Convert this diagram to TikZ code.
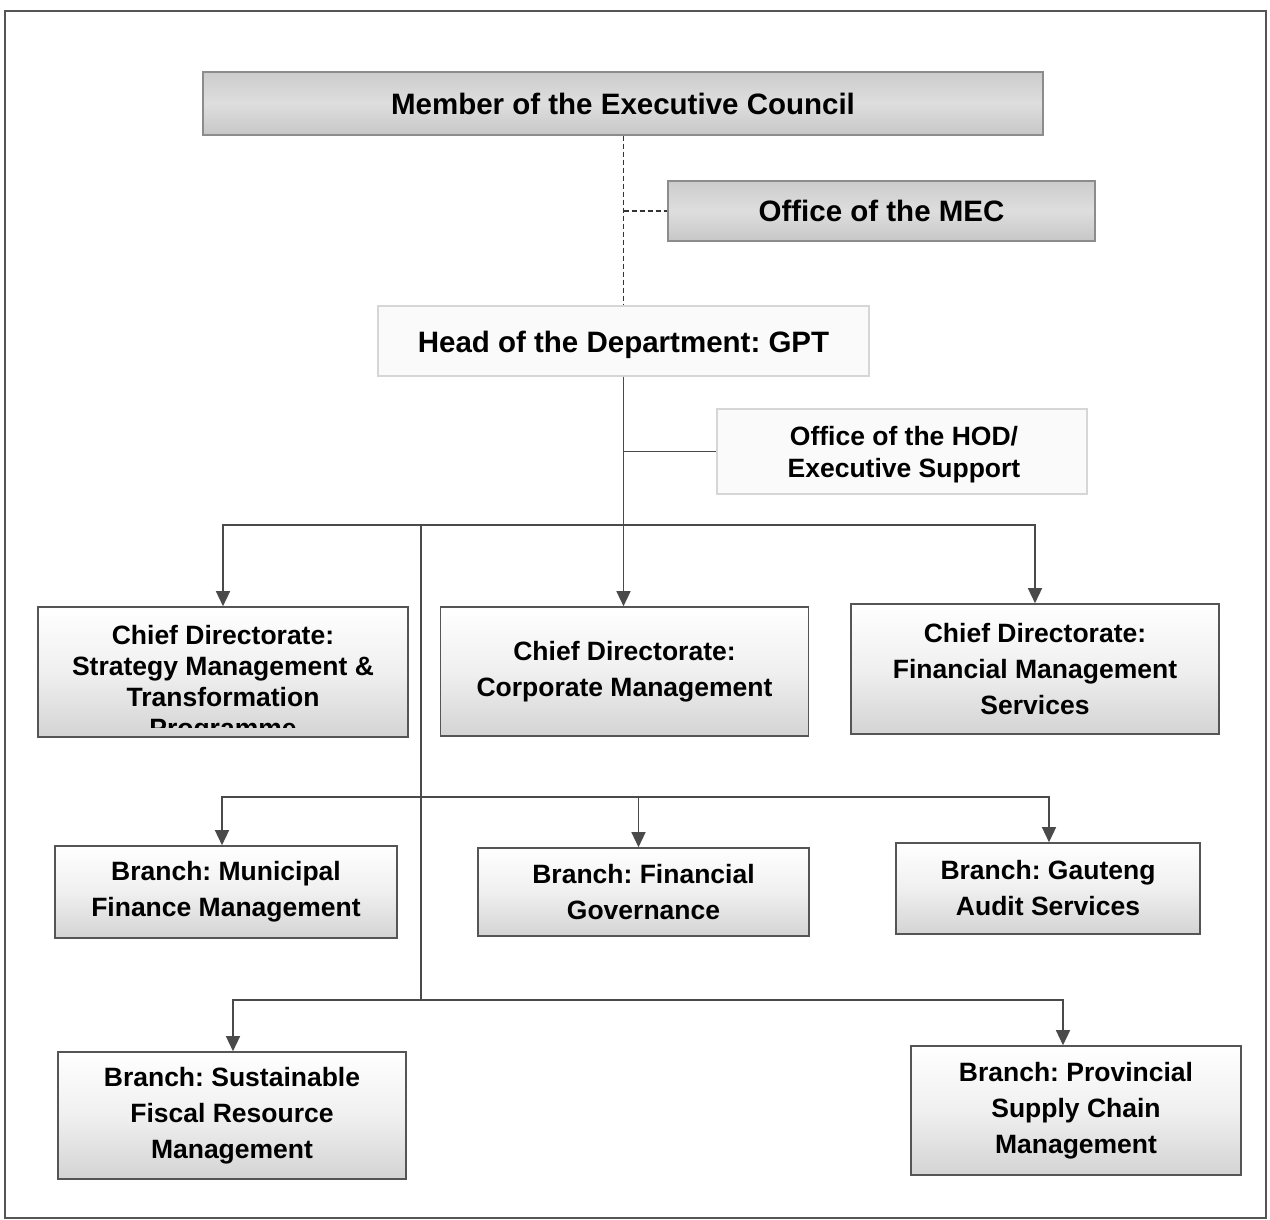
\documentclass[tikz,border=0pt]{standalone}
\usepackage{fontspec}
\setmainfont{Liberation Sans}
\usetikzlibrary{arrows.meta}
\frenchspacing
\definecolor{bordgray}{HTML}{555555}
\definecolor{linegray}{HTML}{4A4A4A}
\definecolor{lightbord}{HTML}{D6D6D6}
\tikzset{
  orgbox/.style={draw=bordgray, line width=1.6pt, rectangle, inner sep=0pt,
    top color=white, bottom color=black!17, middle color=black!6,
    align=center, font=\bfseries\fontsize{26.5}{36}\selectfont},
  topbox/.style={draw=black!45, line width=1.4pt, rectangle, inner sep=0pt,
    top color=black!20, bottom color=black!22, middle color=black!13,
    align=center, font=\bfseries\fontsize{29.5}{36}\selectfont},
  palebox/.style={draw=lightbord, line width=1.4pt, rectangle, inner sep=0pt,
    fill=black!2, align=center},
  conn/.style={draw=linegray, line width=1.4pt},
  arr/.style={conn, -{Triangle[width=14pt,length=15pt]}},
  dconn/.style={draw=black!80, line width=1.2pt, dash pattern=on 5pt off 3pt},
}
\begin{document}
\begin{tikzpicture}[x=1pt,y=-1pt]
\useasboundingbox (0,0) rectangle (1270,1220);
\fill[white] (0,0) rectangle (1270,1220);
\draw[draw=bordgray, line width=2pt] (5,11) rectangle (1266,1218);

% top level
\node[topbox, minimum width=840, minimum height=63] (mec) at (623,103.5) {Member of the Executive Council};
\node[topbox, minimum width=427, minimum height=60] (omec) at (881.5,211) {Office of the MEC};
\node[palebox, minimum width=491, minimum height=70] (hod) at (623.5,341) {};
\node[font=\bfseries\fontsize{29.5}{36}\selectfont] (hodtext) at (623.5,345) {Head of the Department: GPT};
\node[palebox, minimum width=370, minimum height=85] (ohod) at (902,451.5) {};
\node[align=center, font=\bfseries\fontsize{26.5}{32}\selectfont] (ohodtext) at (904,455) {Office of the HOD/\\Executive Support};

% chief directorates
\node[orgbox, minimum width=370, minimum height=130] (cds) at (223,672) {};
\begin{scope}
  \clip (40,609) rectangle (406,727);
  \node[align=center, font=\bfseries\fontsize{26.5}{31}\selectfont] (cdstext) at (223,684) {Chief Directorate:\\Strategy Management \&\\Transformation\\Programme};
\end{scope}
\node[orgbox, minimum width=368, minimum height=129] (cdc) at (624.5,671.5) {Chief Directorate:\\Corporate Management};
\node[orgbox, minimum width=368, minimum height=130] (cdf) at (1035,669) {Chief Directorate:\\Financial Management\\Services};

% branches row 1
\node[orgbox, minimum width=342, minimum height=92] (bm) at (226,892) {Branch: Municipal\\Finance Management};
\node[orgbox, minimum width=331, minimum height=88] (bfg) at (643.5,892) {Branch: Financial\\Governance};
\node[orgbox, minimum width=304, minimum height=91] (bga) at (1048,888.5) {Branch: Gauteng\\Audit Services};

% branches row 2
\node[orgbox, minimum width=348, minimum height=127] (bs) at (232,1115.5) {Branch: Sustainable\\Fiscal Resource\\Management};
\node[orgbox, minimum width=330, minimum height=129] (bp) at (1076,1110.5) {Branch: Provincial\\Supply Chain\\Management};

% junction coordinates
\coordinate (j1) at (624,525);
\coordinate (j2) at (421,525);
\coordinate (j3) at (421,797);
\coordinate (j4) at (421,1000);

% dashed links
\draw[dconn] (mec.south -| hod.north) -- (hod.north);
\draw[dconn] (hod.north |- omec.west) -- (omec.west);

% solid links
\draw[arr] (hod.south) -- (hod.south |- cdc.north);
\draw[conn] (hod.south |- ohod.west) -- (ohod.west);
\draw[arr] (j1) -| (cds.north);
\draw[arr] (j1) -| (cdf.north);
\draw[conn] (j2) -- (j4);
\draw[arr] (j3) -| ([xshift=-4pt]bm.north);
\draw[arr] (j3) -| ([xshift=-5pt]bfg.north);
\draw[arr] (j3) -| ([xshift=1pt]bga.north);
\draw[arr] (j4) -| ([xshift=1pt]bs.north);
\draw[arr] (j4) -| ([xshift=-13pt]bp.north);
\end{tikzpicture}
\end{document}
